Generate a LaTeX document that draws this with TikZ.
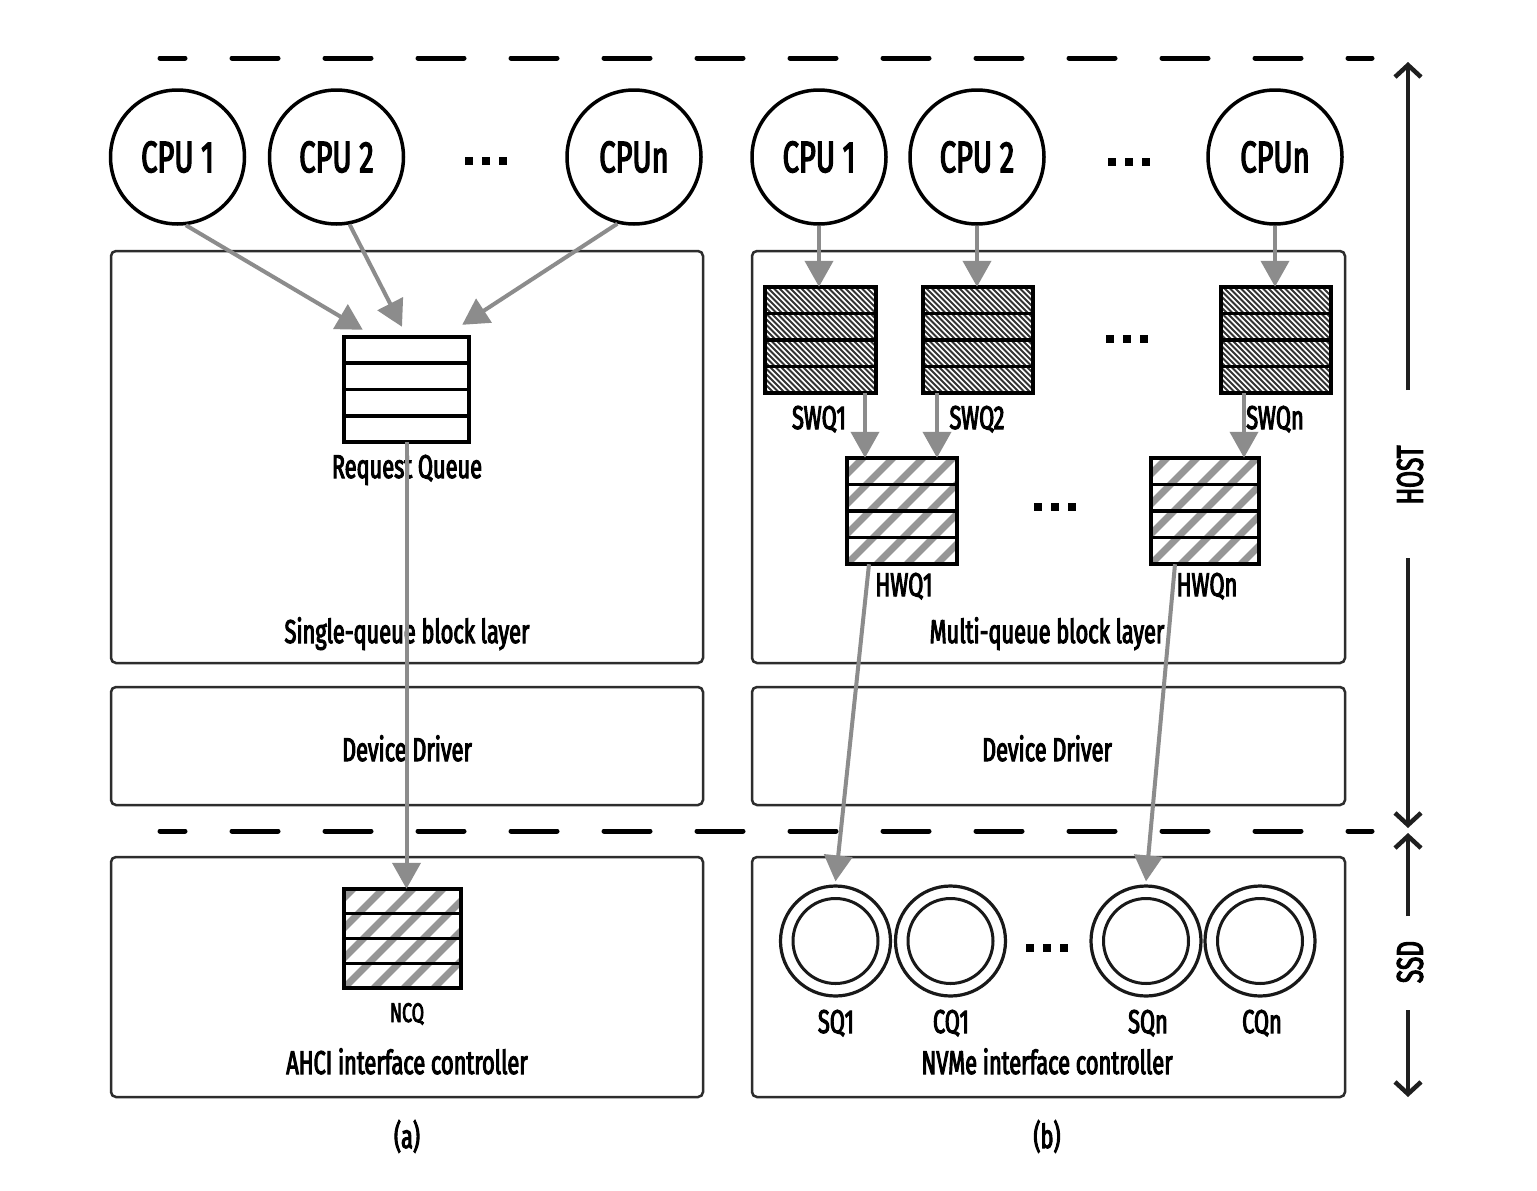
\documentclass[tikz,border=0pt]{standalone}
\usepackage{fontspec}
\setmainfont{Fira Sans}[FakeStretch=0.66,FakeBold=3]
\usetikzlibrary{arrows.meta,calc}
\definecolor{agray}{RGB}{140,140,140}
\definecolor{hgray}{RGB}{150,150,150}
\definecolor{boxc}{RGB}{45,45,45}
\tikzset{
  panel/.style={rectangle, draw=boxc, line width=2.5pt, rounded corners=5pt, inner sep=0pt},
  cpu/.style={circle, draw=black, line width=3.5pt, minimum size=134pt, inner sep=0pt, font=\fontsize{44}{44}\selectfont},
  ring/.style={circle, draw=black!90, line width=3.2pt, minimum size=110pt, inner sep=0pt},
  qbox/.style={rectangle, draw=none, inner sep=0pt},
  lbl/.style={anchor=base, inner sep=0pt, font=\fontsize{33}{33}\selectfont},
  slbl/.style={anchor=base, inner sep=0pt, font=\fontsize{27}{27}\selectfont},
  sidelbl/.style={rotate=90, inner sep=0pt, font=\fontsize{37}{37}\selectfont},
  arr/.style={draw=agray, line width=4pt, -{Triangle[length=26pt,width=28pt]}},
  side/.style={draw=black!88, line width=4.5pt, -{Straight Barb[length=12pt,width=26pt]}},
  hline/.style={line width=5pt, line cap=round, dash pattern=on 46pt off 47pt, dash phase=21pt},
  dotsq/.style={fill=black, draw=none},
}
\newcommand\qrows[2]{%
  \foreach \f in {0.25,0.5,0.75}{\draw[line width=#2] ($(#1.north west)!\f!(#1.south west)$) -- ($(#1.north east)!\f!(#1.south east)$);}%
  \draw[line width=#2] (#1.north west) rectangle (#1.south east);}
\newcommand\widehatch[1]{%
  \begin{scope}
    \clip (#1.south west) rectangle (#1.north east);
    \foreach \k in {-150,-120,...,150}{\draw[hgray, line width=7pt] ($(#1.south west)+(\k,0)$) -- ++(160,-160);}
  \end{scope}}
\newcommand\densehatch[1]{%
  \begin{scope}
    \clip (#1.south west) rectangle (#1.north east);
    \foreach \k in {-130,-124.5,...,130}{\draw[black!80, line width=1.9pt] ($(#1.north west)+(\k,0)$) -- ++(150,150);}
  \end{scope}}
\newcommand\sqdots[2]{%
  \foreach \dx in {-17,0,17}{\fill[dotsq] ($(#1+\dx-4,#2-4)$) rectangle ($(#1+\dx+4,#2+4)$);}}
\begin{document}
\begin{tikzpicture}[x=1pt,y=-1pt]
\useasboundingbox (0,0) rectangle (1537,1191);
\fill[white] (0,0) rectangle (1537,1191);

% dashed separators
\coordinate (d1a) at (160,58); \coordinate (d1b) at (1372,58);
\coordinate (d2a) at (160,831); \coordinate (d2b) at (1372,831);
\draw[hline] (d1a) -- (d1b);
\draw[hline] (d2a) -- (d2b);

% panels
\node[panel, minimum width=592pt, minimum height=412pt] (pa1) at (407,457) {};
\node[panel, minimum width=592pt, minimum height=118pt] (pa2) at (407,746) {};
\node[panel, minimum width=592pt, minimum height=240pt] (pa3) at (407,977) {};
\node[panel, minimum width=593pt, minimum height=412pt] (pb1) at (1048.5,457) {};
\node[panel, minimum width=593pt, minimum height=118pt] (pb2) at (1048.5,746) {};
\node[panel, minimum width=593pt, minimum height=240pt] (pb3) at (1048.5,977) {};

% CPUs
\node[cpu] (cl1) at (177.5,157) {CPU 1};
\node[cpu] (cl2) at (336.5,157) {CPU 2};
\node[cpu] (cln) at (634,157) {CPUn};
\node[cpu] (cr1) at (819,157) {CPU 1};
\node[cpu] (cr2) at (977,157) {CPU 2};
\node[cpu] (crn) at (1275,157) {CPUn};
\sqdots{486}{161}
\sqdots{1129}{162}

% queues (a)
\node[qbox, minimum width=125pt, minimum height=105pt] (rq) at (406.5,389.5) {};
\qrows{rq}{3.5pt}
\node[qbox, minimum width=117pt, minimum height=99pt] (ncq) at (402.5,938.5) {};
\widehatch{ncq}
\qrows{ncq}{3.5pt}

% queues (b)
\node[qbox, minimum width=111pt, minimum height=106pt] (swq1) at (820.5,340) {};
\node[qbox, minimum width=110pt, minimum height=106pt] (swq2) at (978,340) {};
\node[qbox, minimum width=110pt, minimum height=106pt] (swqn) at (1276,340) {};
\foreach \n in {swq1,swq2,swqn}{\densehatch{\n}\qrows{\n}{3.5pt}}
\sqdots{1127}{339}
\node[qbox, minimum width=110pt, minimum height=106pt] (hwq1) at (902,511) {};
\node[qbox, minimum width=108pt, minimum height=106pt] (hwqn) at (1205,511) {};
\foreach \n in {hwq1,hwqn}{\widehatch{\n}\qrows{\n}{3.5pt}}
\sqdots{1055}{507}

% rings
\node[ring] (sq1) at (835.5,941) {};
\node[ring] (cq1) at (950.5,941) {};
\node[ring] (sqn) at (1146,941) {};
\node[ring] (cqn) at (1260,941) {};
\foreach \n in {sq1,cq1,sqn,cqn}{\draw[black!90, line width=3pt] (\n.center) circle (42.5);}
\sqdots{1047}{948}

% labels
\node[lbl] (lrq) at (407,478) {Request Queue};
\node[lbl] (lsq) at (407,643) {Single-queue block layer};
\node[lbl] (ldda) at (407,761) {Device Driver};
\node[slbl] (lncq) at (407,1022) {NCQ};
\node[lbl] (lahci) at (407,1074) {AHCI interface controller};
\node[lbl] (la) at (407,1148) {(a)};
\node[lbl] (lsw1) at (819,429) {SWQ1};
\node[lbl] (lsw2) at (977,429) {SWQ2};
\node[lbl] (lswn) at (1275,429) {SWQn};
\node[lbl] (lhw1) at (904,596) {HWQ1};
\node[lbl] (lhwn) at (1207,596) {HWQn};
\node[lbl] (lmq) at (1047,643) {Multi-queue block layer};
\node[lbl] (lddb) at (1047,761) {Device Driver};
\node[lbl] (lsq1) at (836,1033) {SQ1};
\node[lbl] (lcq1) at (951,1033) {CQ1};
\node[lbl] (lsqn) at (1148,1033) {SQn};
\node[lbl] (lcqn) at (1262,1033) {CQn};
\node[lbl] (lnvme) at (1047,1074) {NVMe interface controller};
\node[lbl] (lb) at (1047,1148) {(b)};
\node[sidelbl] (host) at (1410,475) {HOST};
\node[sidelbl] (ssd) at (1410,962) {SSD};

% side arrows
\coordinate (h0) at (1408,62); \coordinate (h1) at (1408,390);
\coordinate (h2) at (1408,558); \coordinate (h3) at (1408,828);
\coordinate (s0) at (1408,833); \coordinate (s1) at (1408,916);
\coordinate (s2) at (1408,1010); \coordinate (s3) at (1408,1097);
\draw[side] (h1) -- (h0);
\draw[side] (h2) -- (h3);
\draw[side] (s1) -- (s0);
\draw[side] (s2) -- (s3);

% gray arrows (a)
\draw[arr] (cl1.-83) -- ([shift={(19,-7)}]rq.north west);
\draw[arr] (cl2.-79) -- ([shift={(-4.5,-10)}]rq.north);
\draw[arr] (cln.-104) -- ([shift={(-7,-12)}]rq.north east);
\draw[arr] (rq.south) -- (rq.south |- ncq.north);

% gray arrows (b)
\draw[arr] (cr1.south) -- (cr1.south |- swq1.north);
\draw[arr] (cr2.south) -- (cr2.south |- swq2.north);
\draw[arr] (crn.south) -- (crn.south |- swqn.north);
\draw[arr] ([xshift=44.5pt]swq1.south) -- ([xshift=44.5pt]swq1.south |- hwq1.north);
\draw[arr] ([xshift=-41pt]swq2.south) -- ([xshift=-41pt]swq2.south |- hwq1.north);
\draw[arr] ([xshift=-32pt]swqn.south) -- ([xshift=-32pt]swqn.south |- hwqn.north);
\draw[arr] ([xshift=-33pt]hwq1.south) -- ([yshift=3pt]sq1.north);
\draw[arr] ([xshift=-30pt]hwqn.south) -- ([yshift=3pt]sqn.north);
\end{tikzpicture}
\end{document}
